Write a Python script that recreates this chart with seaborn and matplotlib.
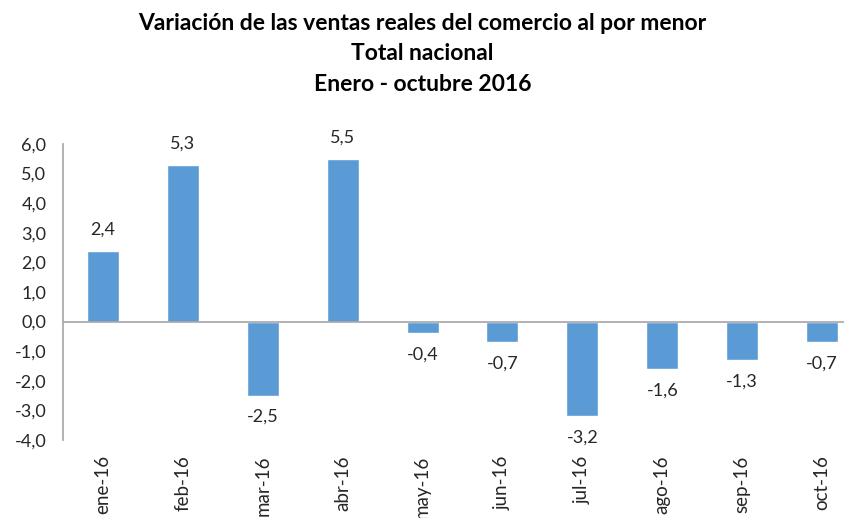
import seaborn as sns
import matplotlib.pyplot as plt
import pandas as pd

meses = ["ene-16", "feb-16", "mar-16", "abr-16", "may-16",
         "jun-16", "jul-16", "ago-16", "sep-16", "oct-16"]
variacion = [2.4, 5.3, -2.5, 5.5, -0.4, -0.7, -3.2, -1.6, -1.3, -0.7]
y_ticks = [-4, -3, -2, -1, 0, 1, 2, 3, 4, 5, 6]

df = pd.DataFrame({"mes": meses, "var": variacion})

sns.set_theme(style="white")
plt.rcParams["font.family"] = ["Lato", "DejaVu Sans"]

fig = plt.figure(figsize=(8.45, 5.18), dpi=100)
ax = fig.add_axes([63 / 845, 1 - 440 / 518, 799 / 845, 296 / 518])

sns.barplot(data=df, x="mes", y="var", color="#5B9BD5", saturation=1,
            width=0.4, ax=ax)

ax.set_ylim(-4, 6)
ax.set_xlim(-0.5, len(meses) - 0.5)
ax.set_yticks(y_ticks)
ax.set_yticklabels([f"{v:.1f}".replace(".", ",") for v in y_ticks],
                   fontsize=13, color="#262626")
ax.tick_params(axis="x", labelrotation=90, labelsize=13.5, pad=5,
               colors="#262626")
ax.tick_params(axis="y", pad=6)
ax.set_xlabel("")
ax.set_ylabel("")

for s in ["top", "right", "bottom"]:
    ax.spines[s].set_visible(False)
ax.spines["left"].set_color("#A6A6A6")
ax.spines["left"].set_linewidth(1.2)
ax.axhline(0, color="#A6A6A6", linewidth=1.2)

for i, v in enumerate(variacion):
    txt = f"{v:.1f}".replace(".", ",")
    if v >= 0:
        ax.text(i, v + 0.45, txt, ha="center", va="bottom", fontsize=13,
                color="#262626")
    else:
        ax.text(i, v - 0.45, txt, ha="center", va="top", fontsize=13,
                color="#262626")

fig.text(0.5, 0.955, "Variación de las ventas reales del comercio al por menor",
         ha="center", va="center", fontsize=16.5, fontweight="bold",
         color="black")
fig.text(0.5, 0.897, "Total nacional", ha="center", va="center",
         fontsize=16.5, fontweight="bold", color="black")
fig.text(0.5, 0.836, "Enero - octubre 2016", ha="center", va="center",
         fontsize=16.5, fontweight="bold", color="black")

fig.savefig("out.png", dpi=100)
